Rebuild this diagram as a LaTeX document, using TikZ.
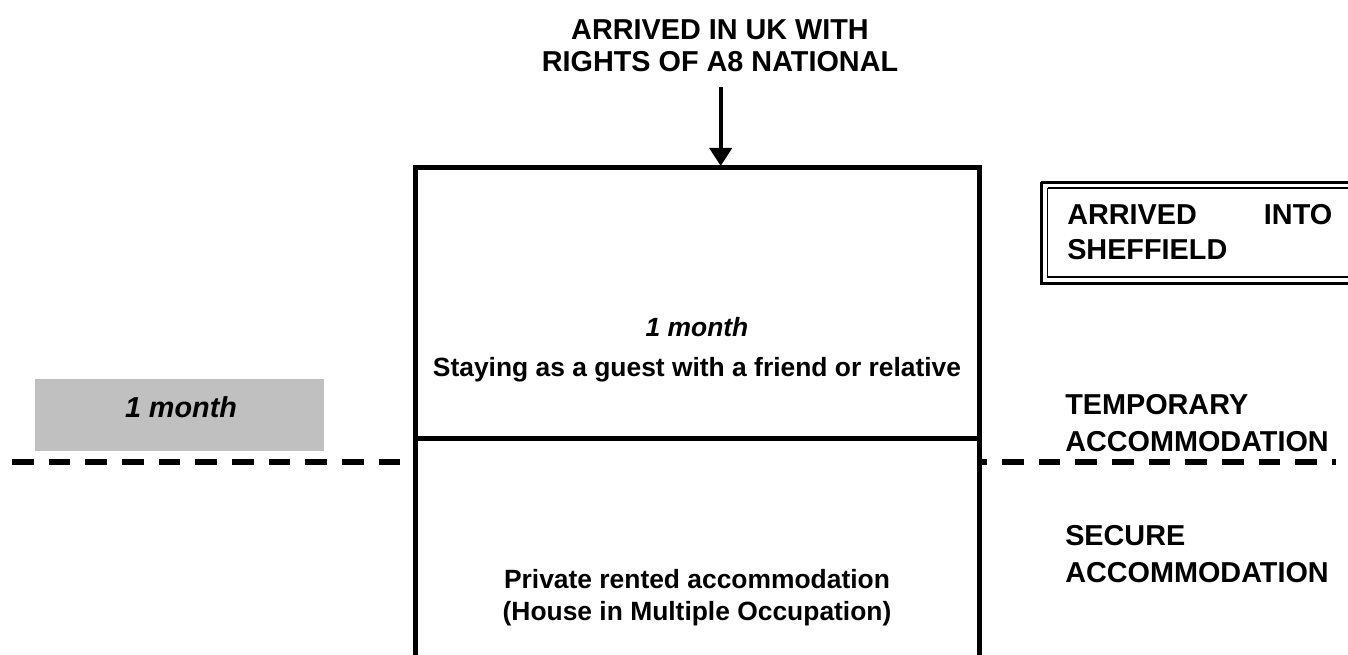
\documentclass[tikz,border=0pt]{standalone}
\usepackage{fontspec}
\setmainfont{Liberation Sans}
\usetikzlibrary{arrows.meta}
\tikzset{
  big/.style={font=\fontsize{21.6}{26}\selectfont\bfseries, inner sep=0pt},
  small/.style={font=\fontsize{19.8}{24}\selectfont\bfseries, inner sep=0pt},
  frame/.style={line width=3.75pt, draw=black},
}
\begin{document}
\begin{tikzpicture}[x=0.75pt,y=-0.75pt]
\useasboundingbox (0,0) rectangle (1348,655);
\clip (0,0) rectangle (1348,655);
% dashed divider
\coordinate (dl) at (12,462);
\coordinate (dr) at (1336,462);
\draw[line width=4.5pt, dash pattern=on 16.3pt off 11.2pt] (dl) -- (dr);
% grey box
\node[fill={rgb,255:red,192;green,192;blue,192}, minimum width=289*0.75pt, minimum height=72*0.75pt, inner sep=0pt, anchor=north west] (grey) at (35,379) {};
\node[big, font=\fontsize{21.6}{26}\selectfont\bfseries\itshape, anchor=base] (gm) at (181,417) {1 month};
% main box
\fill[white] (415.5,168) rectangle (979,700);
\coordinate (tl) at (415.5,168);
\coordinate (tr) at (979,168);
\coordinate (bl) at (415.5,700);
\coordinate (br) at (979,700);
\coordinate (ml) at (415.5,438);
\coordinate (mr) at (979,438);
\draw[frame, line join=miter] (bl) -- (tl) -- (tr) -- (br);
\draw[frame] (ml) -- (mr);
% header
\node[big, anchor=base] (h1) at (720,40) {ARRIVED IN UK WITH};
\node[big, anchor=base] (h2) at (720,72) {RIGHTS OF A8 NATIONAL};
\coordinate (as) at (720.7,87);
\coordinate (ae) at (720.7,166);
\draw[line width=3pt, -{Triangle[width=16.5pt,length=13.5pt]}] (as) -- (ae);
% top cell
\node[small, font=\fontsize{19.8}{24}\selectfont\bfseries\itshape, anchor=base] (t1) at (697,337) {1 month};
\node[small, anchor=base] (t2) at (697,377) {Staying as a guest with a friend or relative};
% bottom cell
\node[small, anchor=base] (b1) at (697,588) {Private rented accommodation};
\node[small, anchor=base] (b2) at (697,620) {(House in Multiple Occupation)};
% Sheffield box
\draw[line width=2.2pt] (1041.3,182.3) -- (1400,182.3);
\draw[line width=2.2pt] (1041.3,182.3) -- (1041.3,283.7) -- (1400,283.7);
\draw[line width=1.3pt] (1047.5,188) -- (1400,188);
\draw[line width=1.3pt] (1047.5,188) -- (1047.5,277.3) -- (1400,277.3);
\node[big, anchor=base west] (s1) at (1067,225) {\makebox[198.75pt][s]{ARRIVED\hfill INTO}};
\node[big, anchor=base west] (s2) at (1067,260) {SHEFFIELD};
% right labels
\node[big, anchor=base west] (r1) at (1065,415) {TEMPORARY};
\node[big, anchor=base west] (r2) at (1065,451) {ACCOMMODATION};
\node[big, anchor=base west] (r3) at (1065,545) {SECURE};
\node[big, anchor=base west] (r4) at (1065,582) {ACCOMMODATION};
\end{tikzpicture}
\end{document}
